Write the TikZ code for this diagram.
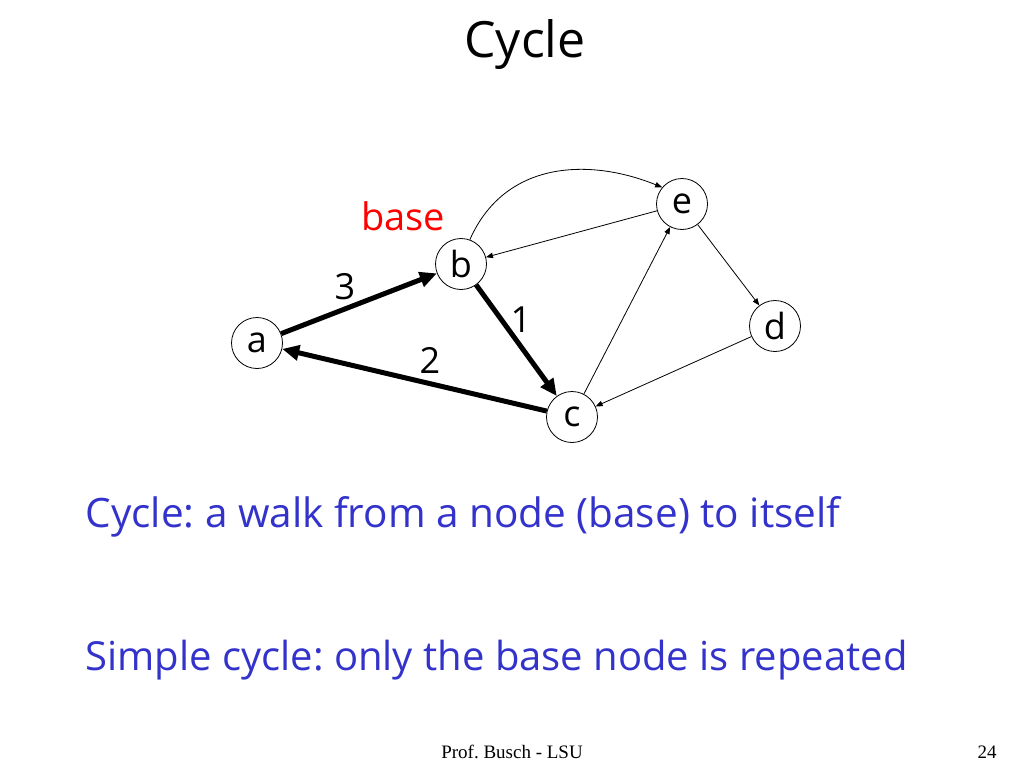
\documentclass[tikz,border=0pt]{standalone}
\usepackage{fontspec}
\setmainfont{Open Sans}
\newfontfamily\footfont{Liberation Serif}
\usetikzlibrary{arrows.meta}
\definecolor{txtblue}{RGB}{51,51,204}
\frenchspacing
\tikzset{
  vert/.style={circle,draw,line width=0.8pt,minimum size=51pt,inner sep=0pt,font=\fontsize{36}{36}\selectfont},
  thin/.style={line width=0.8pt,-{Triangle[length=7pt,width=5.5pt]}},
  thick/.style={line width=5pt,-{Triangle[length=17pt,width=15pt]}},
  lab/.style={font=\fontsize{36}{36}\selectfont},
  bluetxt/.style={anchor=west,text=txtblue,font=\fontsize{40.5}{40}\selectfont},
  foot/.style={font=\footfont\fontsize{19}{19}\selectfont},
}
\begin{document}
\begin{tikzpicture}[x=1pt,y=-1pt]
\useasboundingbox (0,0) rectangle (1024,768);
\node[font=\fontsize{50}{50}\selectfont] (title) at (525,45) {Cycle};
\node[vert] (a) at (257,343) {a};
\node[vert] (b) at (461,264) {b};
\node[vert] (e) at (682,204) {e};
\node[vert] (d) at (775,326) {d};
\node[vert] (c) at (572,417) {c};
\draw[thick] (a) -- (b);
\draw[thick] (b) -- (c);
\draw[thick] (c) -- (a);
\draw[thin] (b.70) .. controls (505,160) and (590,158) .. (e.140);
\draw[thin] (e) -- (b);
\draw[thin] (c) -- (e);
\draw[thin] (e) -- (d);
\draw[thin] (d) -- (c);
\node[lab] (l3) at (345,287) {3};
\node[lab] (l1) at (521,320) {1};
\node[lab] (l2) at (430,360) {2};
\node[lab,text=red,font=\fontsize{38}{38}\selectfont] (base) at (403,216) {base};
\node[bluetxt] (t1) at (82,517) {Cycle: a walk from a node (base) to itself};
\node[bluetxt,font=\fontsize{40}{40}\selectfont] (t2) at (82,660) {Simple cycle: only the base node is repeated};
\node[foot] (foot) at (512,752) {Prof. Busch - LSU};
\node[foot] (num) at (987,752) {24};
\end{tikzpicture}
\end{document}
